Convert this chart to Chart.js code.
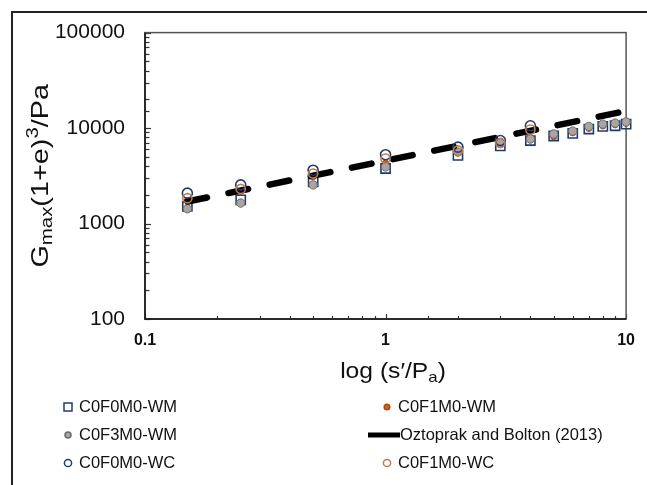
<!DOCTYPE html>
<html>
<head>
<meta charset="utf-8">
<script src="https://cdn.jsdelivr.net/npm/chart.js@4.4.0/dist/chart.umd.min.js"></script>
<style>
  html, body { margin: 0; padding: 0; background: #fff; }
  #wrap { position: relative; width: 647px; height: 485px; overflow: hidden; }
  #frame { position: absolute; left: 11px; top: 11px; right: -5px; bottom: -5px;
           border-left: 2px solid #222; border-top: 2px solid #222; pointer-events: none; }
  canvas { position: absolute; left: 0; top: 0; }
</style>
</head>
<body>
<div id="wrap">
  <canvas id="chart" width="647" height="485"></canvas>
  <div id="frame"></div>
</div>
<script>
// normalised confining stress, s'/Pa
const stressLevels = [0.15, 0.25, 0.5, 1, 2, 3, 4, 5, 6, 7, 8, 9, 10]
const stressLevelsWC = [0.15, 0.25, 0.5, 1, 2, 3, 4]

// Gmax(1+e)^3/Pa
const c0f0m0WM = [1510, 1770, 2740, 3770, 5180, 6500, 7400, 8260, 8800, 9770, 10400, 10570, 11000]
const c0f1m0WM = [1740, 2160, 3090, 4300, 5500, 6700, 7500, 8100, 8900, 9900, 10500, 10800, 11200]
const c0f3m0WM = [1430, 1640, 2540, 3920, 5600, 7000, 7690, 8670, 9300, 10400, 11000, 11270, 11600]
const c0f0m0WC = [2080, 2540, 3620, 5260, 6310, 7400, 10570]
const c0f1m0WC = [1840, 2300, 3340, 4780, 5830, 7000, 9620]

// Oztoprak and Bolton (2013) reference line
const oztoprakX = [0.15, 1, 10]
const oztoprakY = [1700, 4550, 15100]

const xTickValues = [0.1, 1, 10]
const xTickLabels = ['0.1', '1', '10']
const yTickValues = [100, 1000, 10000, 100000]
const yTickLabels = ['100', '1000', '10000', '100000']

const toPoints = (xs, ys) => ys.map((v, i) => ({x: xs[i], y: v}))
const sameLog = (a, b) => Math.abs(Math.log10(a) - Math.log10(b)) < 1e-6
const pickLabel = (v, values, labels) => {
    const i = values.findIndex(t => sameLog(t, v))
    return i >= 0 ? labels[i] : ''
}

const ARIAL = '"Liberation Sans", Arial, sans-serif'
const navy = '#1f3b73'
const orange = '#d0641e'
const tan = '#c27a48'

const datasets = [
    {label: 'C0F0M0-WM', data: toPoints(stressLevels, c0f0m0WM), pointStyle: 'rect', pointRadius: 6.5,
        backgroundColor: 'rgba(255,255,255,0)', borderColor: navy, pointBorderWidth: 1.6},
    {label: 'C0F1M0-WM', data: toPoints(stressLevels, c0f1m0WM), pointStyle: 'circle', pointRadius: 3,
        backgroundColor: orange, borderColor: '#b04a10', pointBorderWidth: 1},
    {label: 'C0F3M0-WM', data: toPoints(stressLevels, c0f3m0WM), pointStyle: 'circle', pointRadius: 4.2,
        backgroundColor: '#aaa5a0', borderColor: '#6e6a66', pointBorderWidth: 1},
    {label: 'Oztoprak and Bolton (2013)', data: toPoints(oztoprakX, oztoprakY), showLine: true, pointRadius: 0,
        borderColor: '#000', borderWidth: 6.5, borderDash: [20, 22], borderCapStyle: 'round'},
    {label: 'C0F0M0-WC', data: toPoints(stressLevelsWC, c0f0m0WC), pointStyle: 'circle', pointRadius: 5,
        backgroundColor: 'rgba(255,255,255,0)', borderColor: navy, pointBorderWidth: 1.6},
    {label: 'C0F1M0-WC', data: toPoints(stressLevelsWC, c0f1m0WC), pointStyle: 'circle', pointRadius: 4.6,
        backgroundColor: 'rgba(255,255,255,0)', borderColor: tan, pointBorderWidth: 1.6}
]
datasets.forEach((d, i) => { d.order = 10 - i; d.clip = false })

// plot frame and inward tick marks
const frameTicks = {
    id: 'frameTicks',
    beforeDatasetsDraw(chart) {
        const {ctx, chartArea: a, scales: {x, y}} = chart
        ctx.save()
        ctx.strokeStyle = '#333'
        ctx.lineWidth = 1.2
        x.ticks.forEach(t => {
            const px = Math.round(x.getPixelForValue(t.value)) + 0.5
            const len = xTickValues.some(v => sameLog(v, t.value)) ? 5 : 3
            ctx.beginPath(); ctx.moveTo(px, a.bottom); ctx.lineTo(px, a.bottom - len); ctx.stroke()
        })
        y.ticks.forEach(t => {
            const py = Math.round(y.getPixelForValue(t.value)) + 0.5
            const len = yTickValues.some(v => sameLog(v, t.value)) ? 6 : 4.5
            ctx.beginPath(); ctx.moveTo(a.left, py); ctx.lineTo(a.left + len, py); ctx.stroke()
        })
        ctx.strokeStyle = '#555'
        ctx.lineWidth = 1.5
        ctx.strokeRect(a.left, a.top, a.right - a.left, a.bottom - a.top)
        ctx.strokeStyle = '#111'
        ctx.beginPath(); ctx.moveTo(a.left, a.top); ctx.lineTo(a.left, a.bottom); ctx.lineTo(a.right, a.bottom); ctx.stroke()
        ctx.restore()
    }
}

// axis titles with sub/superscripts
function drawRich(ctx, parts, family, stretch) {
    let total = 0
    parts.forEach(p => { ctx.font = `${p.size}px ${family}`; p.w = ctx.measureText(p.t).width; total += p.w })
    ctx.scale(stretch, 1)
    let cx = -total / 2
    parts.forEach(p => {
        ctx.font = `${p.size}px ${family}`
        ctx.fillText(p.t, cx, p.dy || 0)
        cx += p.w
    })
}

const axisTitles = {
    id: 'axisTitles',
    afterDraw(chart) {
        const {ctx, chartArea: a} = chart
        ctx.save()
        ctx.fillStyle = '#111'
        ctx.textBaseline = 'middle'
        ctx.translate(41, (a.top + a.bottom) / 2)
        ctx.rotate(-Math.PI / 2)
        drawRich(ctx, [
            {t: 'G', size: 24}, {t: 'max', size: 17, dy: 6}, {t: '(1+e)', size: 24},
            {t: '3', size: 17, dy: -8}, {t: '/Pa', size: 24}
        ], ARIAL, 1.2)
        ctx.restore()

        ctx.save()
        ctx.fillStyle = '#111'
        ctx.textBaseline = 'middle'
        ctx.translate(393, 372)
        drawRich(ctx, [
            {t: 'log (s\u2032/P', size: 22}, {t: 'a', size: 15, dy: 6}, {t: ')', size: 22}
        ], ARIAL, 1.12)
        ctx.restore()
    }
}

// two-column legend below the plot
const legendGrid = {
    id: 'legendGrid',
    afterDraw(chart) {
        const {ctx} = chart
        const colX = [68, 387]
        const rowY = [407, 435, 463]
        ctx.save()
        ctx.font = `16.5px ${ARIAL}`
        ctx.textBaseline = 'middle'
        chart.data.datasets.forEach((d, i) => {
            const cx = colX[i % 2]
            const cy = rowY[Math.floor(i / 2)]
            ctx.lineWidth = 1.5
            ctx.strokeStyle = d.borderColor
            ctx.fillStyle = d.backgroundColor
            if (d.showLine) {
                ctx.lineWidth = 5
                ctx.beginPath(); ctx.moveTo(368, cy); ctx.lineTo(400, cy); ctx.stroke()
            } else if (d.pointStyle === 'rect') {
                ctx.fillRect(cx - 4, cy - 4, 8, 8)
                ctx.strokeRect(cx - 4, cy - 4, 8, 8)
            } else {
                const r = d.label === 'C0F1M0-WM' ? 2.8 : d.label === 'C0F3M0-WM' ? 3 : 3.6
                ctx.beginPath(); ctx.arc(cx, cy, r, 0, Math.PI * 2); ctx.fill(); ctx.stroke()
            }
            ctx.fillStyle = '#111'
            ctx.fillText(d.label, cx + (d.showLine ? 13 : 11), cy)
        })
        ctx.restore()
    }
}

new Chart(document.getElementById('chart'), {
    type: 'scatter',
    data: {datasets},
    plugins: [frameTicks, axisTitles, legendGrid],
    options: {
        responsive: false,
        animation: false,
        layout: {padding: {left: 0, top: 29, right: 17, bottom: 0}},
        plugins: {legend: {display: false}, tooltip: {enabled: false}},
        scales: {
            x: {
                type: 'logarithmic',
                min: 0.1,
                max: 10,
                afterFit: (s) => { s.height = 166 },
                grid: {display: false, drawTicks: false},
                border: {display: false},
                ticks: {
                    autoSkip: false,
                    maxRotation: 0,
                    padding: 12,
                    color: '#111',
                    font: {family: ARIAL, size: 16, weight: 'bold'},
                    callback: (v) => pickLabel(v, xTickValues, xTickLabels)
                }
            },
            y: {
                type: 'logarithmic',
                min: 100,
                max: 100000,
                afterFit: (s) => { s.width = 145 },
                grid: {display: false, drawTicks: false},
                border: {display: false},
                ticks: {
                    autoSkip: false,
                    padding: 20,
                    color: '#111',
                    font: {family: ARIAL, size: 21},
                    callback: (v) => pickLabel(v, yTickValues, yTickLabels)
                }
            }
        }
    }
})
</script>
</body>
</html>
